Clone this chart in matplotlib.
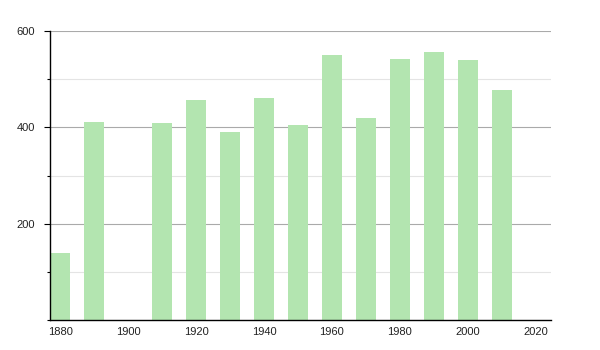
import matplotlib.pyplot as plt
from matplotlib.ticker import MultipleLocator

years = [1880, 1890, 1910, 1920, 1930, 1940, 1950, 1960, 1970, 1980, 1990, 2000, 2010]
population = [139, 412, 410, 456, 390, 461, 404, 551, 420, 542, 556, 539, 477]

BAR = "#b3e5b0"

plt.rcParams["font.family"] = ["Liberation Sans", "DejaVu Sans"]

fig = plt.figure(figsize=(6, 3.5), dpi=100)
ax = fig.add_axes([50 / 600, 1 - 320 / 350, 501 / 600, 289 / 350])

ax.bar(years, population, width=6, color=BAR, zorder=2)

ax.set_xlim(1877, 2024.5)
ax.set_ylim(0, 600)
ax.set_xticks(range(1880, 2021, 20))
ax.yaxis.set_major_locator(MultipleLocator(200))
ax.yaxis.set_minor_locator(MultipleLocator(100))
ax.set_yticks([200, 400, 600])

ax.grid(axis="y", which="major", color="#aaaaaa", lw=0.8, zorder=1)
ax.grid(axis="y", which="minor", color="#e4e4e4", lw=0.8, zorder=1)

for s in ["top", "right"]:
    ax.spines[s].set_visible(False)
ax.spines["left"].set_linewidth(1)
ax.spines["bottom"].set_linewidth(1)

ax.tick_params(axis="x", length=0, pad=5, labelsize=8, labelcolor="#222222")
ax.tick_params(axis="y", which="major", length=4, width=0.8, pad=7, labelsize=8,
               labelcolor="#222222")
ax.tick_params(axis="y", which="minor", length=2, width=0.8)

fig.savefig("out.png", dpi=100)
